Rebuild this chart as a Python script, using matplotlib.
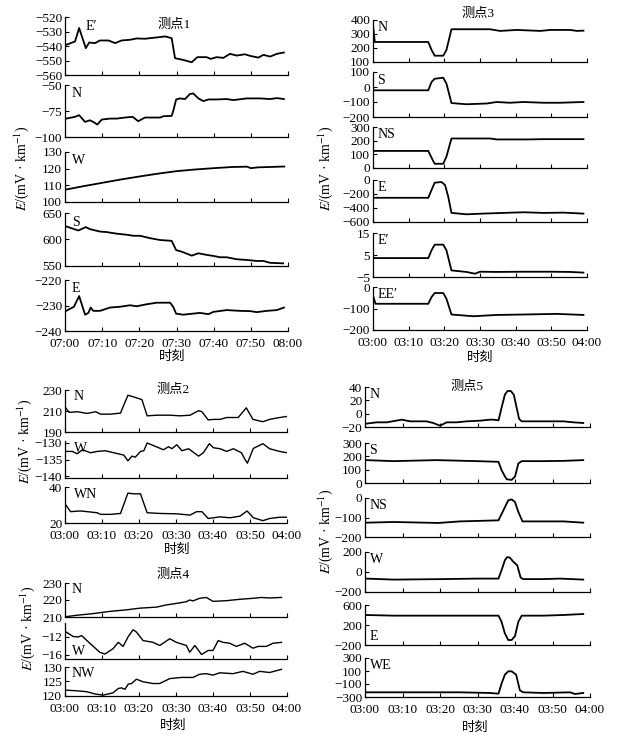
import matplotlib
matplotlib.use("Agg")
import matplotlib.pyplot as plt

plt.rcParams["font.family"] = ["Liberation Serif", "Noto Sans CJK SC", "DejaVu Sans"]
plt.rcParams["mathtext.fontset"] = "stix"

W, H = 622, 742

# ── 数据 (分钟, 自整点起) ─────────────────────────────────────────────
# 测点1
T1_EP = [0.3, 2.7, 3.8, 5.6, 6.5, 8.1, 9.4, 11.7, 13.5, 15.2, 17.5, 19.3, 21.5, 24.7, 26.9, 28.7, 29.6,
         31.8, 34.1, 35.6, 38.1, 39.2, 40.8, 42.6, 44.4, 46.2, 48.4, 49.8, 52.0, 53.4, 55.2, 57.0, 58.9]
V1_EP = [-539.2, -536.9, -527.6, -541.5, -537.6, -538.0, -536.2, -536.2, -538.0, -536.2, -535.7, -534.8,
         -535.0, -534.1, -533.4, -534.6, -548.4, -549.6, -551.2, -547.7, -547.7, -548.9, -547.7, -548.2,
         -545.4, -546.6, -545.7, -546.8, -548.0, -546.1, -547.3, -545.4, -544.5]
T1_N = [0.3, 2.7, 3.8, 5.4, 6.7, 7.6, 8.7, 9.9, 12.1, 13.9, 16.1, 18.2, 19.7, 21.5, 25.6, 26.5, 28.7,
        29.2, 29.9, 30.9, 32.3, 33.6, 34.5, 35.9, 37.2, 38.6, 40.8, 43.5, 45.3, 48.9, 52.5, 55.2, 57.0, 58.9]
V1_N = [-82.3, -80.6, -79.0, -85.5, -83.9, -85.5, -88.0, -83.2, -82.3, -82.3, -81.3, -80.6, -84.8, -81.3,
        -81.3, -80.0, -79.7, -74.0, -63.9, -62.9, -63.5, -58.7, -58.1, -62.9, -65.5, -63.9, -63.9, -63.5,
        -64.5, -62.9, -62.9, -63.5, -62.6, -63.5]
T1_W = [0.3, 5, 10, 15, 20, 25, 30, 35, 40, 45, 49, 50, 52, 55, 59]
V1_W = [107.5, 109.5, 111.5, 113.5, 115.3, 117, 118.5, 119.5, 120.3, 121, 121.2, 120.3, 120.8, 121, 121.3]
T1_S = [0.3, 3.6, 5.6, 6.7, 9.4, 11.2, 13.9, 16.6, 18.4, 20.2, 22.9, 25.6, 28.7, 29.9, 31.4, 34.1, 35.9,
        38.1, 39.9, 41.7, 43.5, 46.2, 48.9, 51.6, 53.4, 55.2, 58.7]
V1_S = [624.7, 617, 623.4, 619.6, 615, 614, 611, 609, 607, 607, 602.5, 599, 597.5, 580, 577, 569.6, 574,
        571, 569, 566.5, 566.5, 562.7, 561.4, 559.5, 559.5, 556, 555]
T1_E = [0.3, 2.4, 3.8, 5.4, 6.3, 6.9, 7.6, 9.4, 12.1, 14.8, 17.5, 19.3, 22.0, 24.7, 28.3, 29.1, 29.9,
        31.8, 36.3, 38.6, 39.9, 43.5, 47.1, 49.8, 51.6, 54.3, 57.0, 58.9]
V1_E = [-232.1, -230.5, -226.3, -233.6, -232.9, -230.8, -232.1, -232.1, -230.8, -230.5, -229.9, -230.3,
        -229.5, -228.9, -228.9, -230.5, -233.2, -233.6, -232.9, -233.4, -232.5, -231.8, -232.1, -232.2,
        -232.6, -232.1, -231.8, -230.8]

# 测点3
T3_N = [0.0, 0.5, 15.5, 16.4, 17.3, 19.7, 20.6, 22.0, 32.8, 35.6, 40.3, 46.9, 49.7, 55.3, 57.2, 59.0]
V3_N = [364, 243, 243, 187, 145, 145, 187, 334, 334, 322, 329, 322, 329, 329, 322, 324]
T3_S = [0.2, 15.5, 16.4, 17.3, 19.7, 20.6, 22.0, 26.2, 31.9, 34.7, 38.4, 42.2, 47.8, 52.5, 59.0]
V3_S = [-22, -22, 33, 55, 62, 22, -107, -115, -110, -100, -105, -100, -105, -105, -100]
T3_NS = [0.2, 15.5, 16.7, 17.3, 19.7, 20.6, 22.0, 32.8, 34.7, 43.1, 47.8, 59.0]
V3_NS = [125, 125, 60, 31, 31, 84, 216, 216, 209, 209, 211, 211]
T3_E = [0.2, 15.5, 16.4, 17.3, 19.2, 20.2, 21.1, 22.0, 26.2, 30.9, 36.6, 42.2, 47.8, 53.4, 59.0]
V3_E = [-254, -254, -144, -38, -29, -72, -240, -470, -490, -480, -470, -461, -470, -466, -480]
T3_EP = [0.2, 15.5, 16.4, 17.3, 19.7, 20.6, 22.0, 26.2, 28.6, 30.0, 34.7, 42.2, 49.7, 55.3, 59.0]
V3_EP = [3.6, 3.6, 7.1, 9.7, 9.7, 7.1, -2.0, -2.7, -3.5, -2.6, -2.7, -2.6, -2.6, -2.7, -3.0]
T3_EEP = [0.0, 0.7, 15.5, 16.4, 17.3, 19.7, 20.6, 22.0, 28.1, 34.7, 42.2, 51.5, 59.0]
V3_EEP = [-39, -78, -78, -47, -28, -28, -55, -128, -136, -130, -128, -125, -130]

# 测点2
T2_N = [0.2, 1.1, 3.3, 6.0, 8.3, 9.6, 12.3, 15.0, 17.0, 18.6, 20.8, 22.2, 24.8, 28.4, 31.1, 33.8, 36.1,
        37.0, 38.7, 40.1, 41.9, 43.7, 46.8, 49.0, 50.8, 53.5, 55.3, 58.0, 60.0]
V2_N = [213, 208.7, 209.3, 207.7, 209.3, 207, 207, 208, 225, 223.4, 220.8, 205.4, 206, 206, 205.4, 206,
        210.3, 209.3, 201.5, 202, 202, 203.8, 203.8, 213, 202, 199.8, 202, 203.8, 204.8]
T2_W = [0.2, 2.0, 3.3, 4.7, 6.9, 8.7, 10.9, 13.2, 15.9, 17.0, 18.1, 19.0, 20.4, 21.3, 22.2, 24.0, 26.6,
        28.0, 28.9, 30.2, 31.6, 33.4, 36.1, 37.4, 39.0, 40.1, 41.9, 43.7, 45.5, 47.7, 48.6, 49.3, 50.9,
        53.5, 55.3, 58.0, 60.0]
V2_W = [-132.6, -132.6, -133.3, -132.1, -133.0, -132.6, -132.4, -133.0, -133.7, -135.4, -134.0, -134.3,
        -132.6, -132.4, -130.1, -130.9, -132.1, -131.2, -131.8, -130.6, -132.4, -131.8, -134.0, -133.0,
        -130.3, -131.5, -131.8, -132.6, -131.8, -133.0, -134.9, -136.1, -131.7, -130.3, -131.8, -132.6,
        -133.0]
T2_WN = [0.2, 1.5, 4.2, 8.7, 9.6, 12.3, 15.0, 17.0, 18.6, 20.4, 22.2, 25.7, 30.2, 33.8, 35.6, 37.0, 38.7,
         40.1, 41.9, 44.6, 47.3, 49.2, 50.9, 53.5, 55.3, 58.0, 60.0]
V2_WN = [30.1, 26.3, 26.7, 25.7, 24.8, 24.8, 25.3, 36.6, 36.2, 36.2, 25.7, 25.3, 25.1, 24.4, 26.3, 26.3,
         22.5, 22.9, 23.4, 22.9, 23.8, 26.7, 22.9, 21.3, 22.5, 23.2, 23.2]

# 测点4
T4_N = [0.3, 3.1, 7.6, 12.1, 16.6, 20.2, 24.7, 27.4, 30.1, 32.8, 33.7, 34.6, 36.4, 38.2, 40.0, 43.6, 47.2,
        50.8, 53.1, 55.3, 58.5]
V4_N = [210.2, 211, 212, 213.3, 214.2, 215.2, 215.8, 217.1, 218, 219, 220, 219.5, 221, 221.5, 219.2, 219.6,
        220.4, 221, 221.5, 221.2, 221.5]
T4_W = [0.3, 2.2, 3.6, 4.5, 6.7, 9.4, 10.8, 13.0, 14.4, 15.7, 17.1, 18.4, 19.3, 21.1, 23.8, 25.6, 28.3,
        30.1, 32.8, 33.7, 35.1, 36.9, 38.7, 40.0, 41.4, 42.7, 44.5, 46.3, 48.6, 50.8, 52.2, 54.4, 56.2, 58.5]
V4_W = [-11.0, -12.0, -12.1, -11.8, -13.5, -15.5, -15.9, -14.7, -13.3, -14.2, -12.0, -10.5, -11.0, -12.9,
        -13.3, -14.0, -12.5, -13.3, -14.0, -15.5, -14.0, -16.0, -15.1, -15.1, -12.9, -13.3, -13.5, -14.2,
        -13.5, -14.6, -14.2, -14.2, -13.5, -13.3]
T4_NW = [0.3, 3.1, 5.8, 8.1, 10.3, 13.0, 14.4, 15.3, 16.2, 17.1, 18.0, 19.3, 21.1, 23.8, 25.6, 28.3, 31.5,
         34.6, 36.4, 38.2, 40.0, 41.8, 45.4, 48.1, 50.8, 52.6, 55.3, 58.5]
V4_NW = [122.0, 121.8, 121.5, 120.7, 120.3, 121.1, 122.6, 122.8, 122.3, 124.1, 124.3, 125.8, 124.9, 124.3,
         124.3, 126.0, 126.4, 126.4, 127.5, 127.7, 127.2, 128.0, 127.7, 128.5, 127.5, 128.5, 128.1, 129.2]

# 测点5
T5_N = [0.3, 3.1, 5.8, 9.8, 12.0, 16.4, 18.2, 20.0, 21.8, 24.4, 27.1, 30.7, 33.3, 34.2, 35.6, 36.4, 37.3,
        38.0, 38.9, 39.7, 40.4, 41.1, 41.8, 47.6, 52.9, 55.6, 58.2]
V5_N = [-15, -13, -13, -9, -11.5, -11.5, -14, -18, -13, -13, -11.5, -10.5, -9, -9, -10, 8.5, 28.5, 34, 34,
        28, 10, -8, -11.5, -11.5, -11.5, -13, -14]
T5_S = [0.3, 7.6, 19.1, 29.8, 35.6, 36.4, 37.3, 37.8, 39.1, 40.0, 40.9, 41.8, 47.6, 52.9, 58.2]
V5_S = [171.6, 164, 171.6, 164, 159, 97.5, 50, 28, 23, 48, 147, 164, 164, 166, 171.6]
T5_NS = [0.3, 7.6, 19.6, 25.3, 35.6, 36.9, 38.2, 39.1, 40.0, 40.9, 42.0, 47.6, 52.9, 58.2]
V5_NS = [-126.5, -123, -128, -120, -114.5, -63, -12, -7, -20.5, -72, -120, -120, -120, -126.5]
T5_W = [0.3, 7.6, 20.9, 29.8, 35.6, 36.4, 37.3, 37.9, 38.6, 39.6, 40.6, 41.5, 42.2, 47.6, 52.0, 58.2]
V5_W = [-66, -76, -71, -66, -66, 17, 117, 148, 145, 100, 67, -56, -71, -71, -66, -76]
T5_E = [0.3, 7.6, 16.4, 25.3, 35.6, 36.4, 37.3, 38.2, 39.1, 40.0, 40.9, 41.8, 47.6, 52.9, 58.2]
V5_E = [400, 387, 387, 387, 387, 267, 33, -100, -100, -20, 267, 387, 387, 400, 420]
T5_WE = [0.3, 12.0, 25.3, 33.3, 35.6, 36.4, 37.3, 38.2, 39.1, 40.3, 41.3, 42.2, 47.6, 54.7, 56.0, 58.2]
V5_WE = [-228, -228, -228, -238, -249, -95, 44, 95, 95, 44, -197, -228, -238, -228, -254, -238]

XT_07 = ["07:00", "07:10", "07:20", "07:30", "07:40", "07:50", "08:00"]
XT_03 = ["03:00", "03:10", "03:20", "03:30", "03:40", "03:50", "04:00"]

# (标签, t, v, 像素上/下, ylim, yticks, 标签位置)
G1 = [("E′", T1_EP, V1_EP, (17, 75), (-560, -520), [-560, -550, -540, -530, -520], (0.09, 0.83)),
      ("N", T1_N, V1_N, (85, 137), (-100, -50), [-100, -75, -50], (0.03, 0.83)),
      ("W", T1_W, V1_W, (152, 202), (100, 130), [100, 110, 120, 130], (0.03, 0.83)),
      ("S", T1_S, V1_S, (213, 266), (550, 650), [550, 600, 650], (0.03, 0.83)),
      ("E", T1_E, V1_E, (280, 331), (-240, -220), [-240, -230, -220], (0.03, 0.83))]
G3 = [("N", T3_N, V3_N, (20, 62), (100, 400), [100, 200, 300, 400], (0.02, 0.82)),
      ("S", T3_S, V3_S, (72, 117), (-200, 100), [-200, -100, 0, 100], (0.02, 0.8)),
      ("NS", T3_NS, V3_NS, (127, 168), (0, 300), [0, 100, 200, 300], (0.02, 0.82)),
      ("E", T3_E, V3_E, (180, 222), (-600, 0), [-600, -400, -200, 0], (0.02, 0.82)),
      ("E′", T3_EP, V3_EP, (233, 277), (-5, 15), [-5, 5, 15], (0.02, 0.82)),
      ("EE′", T3_EEP, V3_EEP, (287, 330), (-200, 0), [-200, -100, 0], (0.02, 0.82))]
G2 = [("N", T2_N, V2_N, (390, 432), (190, 230), [190, 210, 230], (0.04, 0.85)),
      ("W", T2_W, V2_W, (441, 478), (-140.5, -129.5), [-140, -135, -130], (0.04, 0.8)),
      ("WN", T2_WN, V2_WN, (487, 523), (20, 40), [20, 40], (0.04, 0.8))]
G4 = [("N", T4_N, V4_N, (583, 617), (210, 230), [210, 220, 230], (0.03, 0.82)),
      ("W", T4_W, V4_W, (623, 659), (-17, -9), [-16, -12], (0.03, 0.22)),
      ("NW", T4_NW, V4_NW, (667, 696), (120, 130), [120, 125, 130], (0.03, 0.78))]
G5 = [("N", T5_N, V5_N, (387, 427), (-20, 40), [-20, 0, 20, 40], (0.02, 0.82)),
      ("S", T5_S, V5_S, (443, 483), (0, 300), [0, 100, 200, 300], (0.02, 0.82)),
      ("NS", T5_NS, V5_NS, (498, 537), (-200, 0), [-200, -100, 0], (0.02, 0.82)),
      ("W", T5_W, V5_W, (552, 592), (-200, 200), [-200, 0, 200], (0.02, 0.82)),
      ("E", T5_E, V5_E, (605, 645), (-200, 600), [-200, 200, 600], (0.02, 0.22)),
      ("WE", T5_WE, V5_WE, (658, 697), (-300, 300), [-300, -100, 100, 300], (0.02, 0.8))]

YLABEL = "$E$/(mV · km$^{-1}$)"
FS = 9.5

fig = plt.figure(figsize=(W / 100, H / 100), dpi=100)


def draw_group(panels, left, right, xt, lw, title, title_xy, ylab_xy, xlab_xy):
    n = len(panels)
    for i, (name, t, v, (top, bot), ylim, yticks, lpos) in enumerate(panels):
        ax = fig.add_axes([left / W, 1 - bot / H, (right - left) / W, (bot - top) / H])
        ax.plot(t, v, color="black", lw=lw)
        ax.set_xlim(0, 60)
        ax.set_ylim(*ylim)
        ax.set_yticks(yticks)
        ax.set_xticks(range(0, 61, 10))
        if i == n - 1:
            ax.set_xticklabels(xt)
        else:
            ax.set_xticklabels([])
        ax.spines["top"].set_visible(False)
        ax.spines["right"].set_visible(False)
        for s in ("left", "bottom"):
            ax.spines[s].set_linewidth(0.9)
        ax.tick_params(direction="in", length=3, width=0.8, labelsize=FS, pad=2)
        ax.tick_params(axis="x", pad=5)
        ax.patch.set_alpha(0)
        ax.text(lpos[0], lpos[1], name, transform=ax.transAxes, fontsize=FS + 0.5,
                ha="left", va="center")
    fig.text(title_xy[0] / W, 1 - title_xy[1] / H, title, fontsize=FS, ha="center", va="center")
    fig.text(ylab_xy[0] / W, 1 - ylab_xy[1] / H, YLABEL, fontsize=FS + 0.5, rotation=90,
             ha="center", va="center")
    fig.text(xlab_xy[0] / W, 1 - xlab_xy[1] / H, "时刻", fontsize=FS, ha="center", va="center")


draw_group(G1, 65, 288, XT_07, 1.3, "测点1", (174, 25), (22, 168), (172, 357))
draw_group(G3, 373, 587, XT_03, 1.3, "测点3", (478, 14), (326, 168), (480, 358))
draw_group(G2, 65, 287, XT_03, 1.0, "测点2", (173, 390), (25, 441), (177, 550))
draw_group(G4, 65, 287, XT_03, 1.0, "测点4", (173, 575), (28, 628), (173, 726))
draw_group(G5, 365, 590, XT_03, 1.3, "测点5", (467, 387), (326, 531), (475, 728))

fig.savefig("out.png", dpi=100)
